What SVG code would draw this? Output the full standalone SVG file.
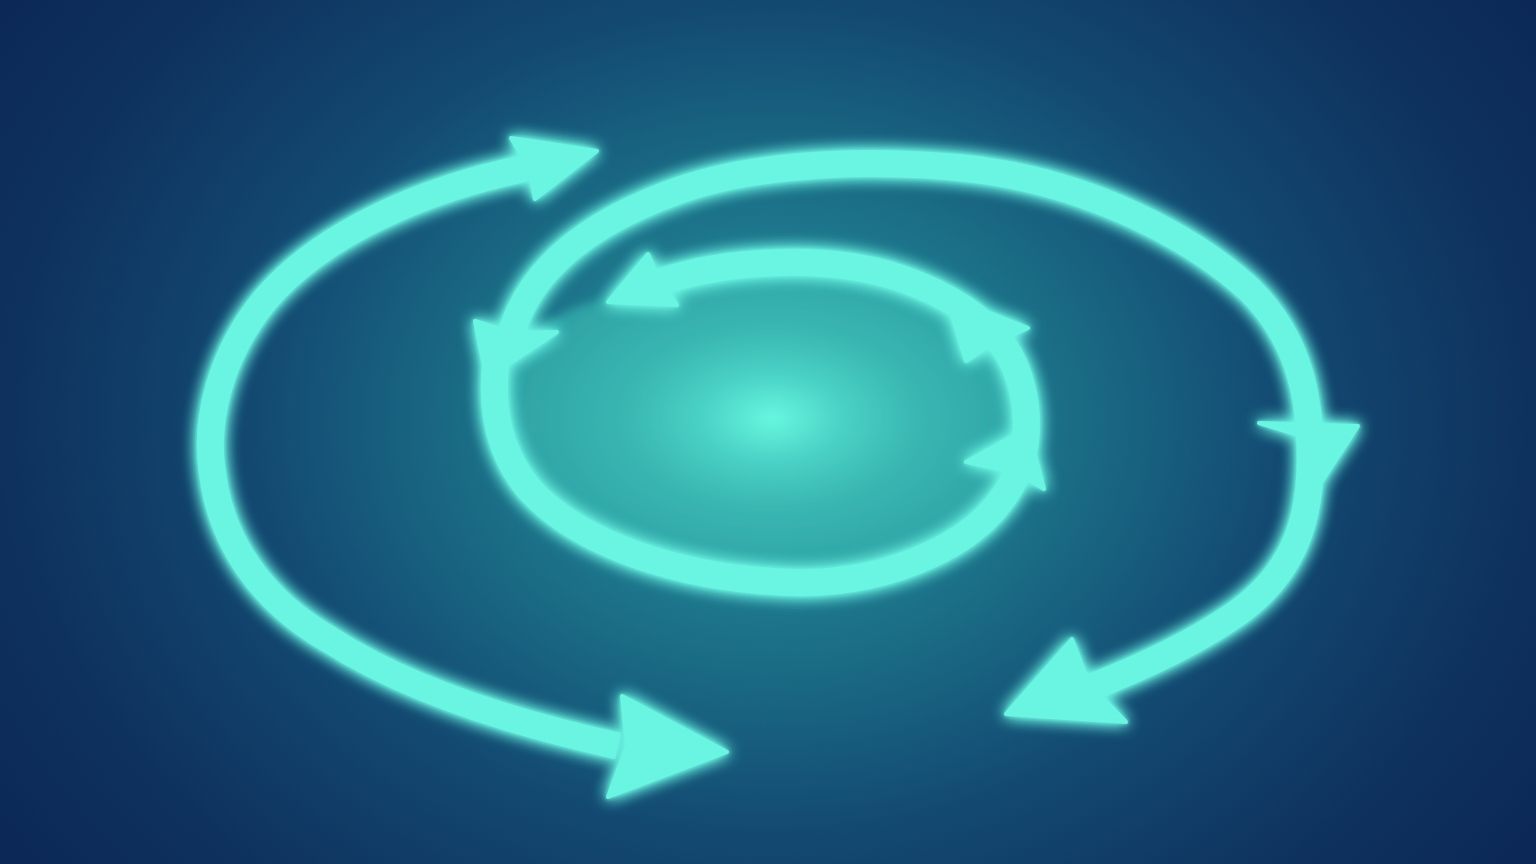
<svg xmlns="http://www.w3.org/2000/svg" width="1536" height="864" viewBox="0 0 1536 864">
  <defs>
    <radialGradient id="bg" gradientUnits="userSpaceOnUse" cx="770" cy="420" r="950" gradientTransform="translate(770 420) scale(1.12 0.9) translate(-770 -420)">
      <stop offset="0" stop-color="#2a98a2"/>
      <stop offset="0.27" stop-color="#1b6f87"/>
      <stop offset="0.48" stop-color="#134a72"/>
      <stop offset="0.72" stop-color="#0e315d"/>
      <stop offset="1" stop-color="#0a2150"/>
    </radialGradient>
    <radialGradient id="core" gradientUnits="userSpaceOnUse" cx="772" cy="418" r="285" gradientTransform="translate(772 418) scale(1 0.62) translate(-772 -418)">
      <stop offset="0" stop-color="#68f8e0"/>
      <stop offset="0.1" stop-color="#5be8d4"/>
      <stop offset="0.26" stop-color="#49d0c5"/>
      <stop offset="0.5" stop-color="#3ab7b2"/>
      <stop offset="1" stop-color="#2c9ea3"/>
    </radialGradient>
    <filter id="soft" x="-10%" y="-10%" width="120%" height="120%">
      <feGaussianBlur stdDeviation="5"/>
    </filter>
    <filter id="glow" x="-20%" y="-20%" width="140%" height="140%">
      <feGaussianBlur in="SourceGraphic" stdDeviation="8" result="b1"/>
      <feGaussianBlur in="SourceGraphic" stdDeviation="2" result="b2"/>
      <feMerge>
        <feMergeNode in="b1"/>
        <feMergeNode in="b1"/>
        <feMergeNode in="b2"/>
        <feMergeNode in="SourceGraphic"/>
      </feMerge>
    </filter>
  </defs>
  <style>
    .shaft { fill: none; stroke: #6af4e2; stroke-width: 27; stroke-linecap: butt; stroke-linejoin: round; }
    .head { fill: #6af4e2; stroke: #6af4e2; stroke-width: 4; stroke-linejoin: round; }
  </style>
  <rect width="1536" height="864" fill="url(#bg)"/>
  <path id="core-glow" filter="url(#soft)" fill="url(#core)" d="M 640,288 C 720,262 820,252 900,278 C 950,295 985,320 1003,345 C 1022,372 1030,410 1025,445 C 1018,490 985,530 930,555 C 880,578 830,585 780,582 C 680,577 580,545 530,490 C 500,455 490,410 500,360 C 530,320 590,300 640,288 Z"/>
  <g id="connectors" filter="url(#glow)">
    <g id="arc-left">
      <path class="shaft" d="M 526,168 C 420,190 320,235 265,300 C 220,355 205,420 212,470 C 220,540 260,600 330,640 C 400,685 500,720 618,746"/>
      <polygon class="head" points="511,138 597,151 535,199 529,168"/>
      <polygon class="head" points="622,696 727,752 608,797 627,746"/>
    </g>
    <g id="arc-outer">
      <path class="shaft" d="M 510,338 C 530,262 600,218 680,190 C 760,162 880,158 980,170 C 1090,185 1190,235 1250,290 C 1300,340 1312,400 1310,470 C 1308,540 1280,585 1230,618 C 1190,645 1140,668 1092,687"/>
      <polygon class="head" points="475,321 512,333 557,332 508,364 484,366"/>
      <polygon class="head" points="1259,423 1358,426 1311,498 1309,438"/>
      <polygon class="head" points="1006,714 1072,639 1089,684 1126,722"/>
    </g>
    <g id="arc-inner">
      <path class="shaft" d="M 660,282 C 720,262 820,252 900,278 C 950,295 985,320 1003,345 C 1022,372 1030,410 1025,445 C 1018,490 985,530 930,555 C 880,578 830,585 780,582 C 680,577 580,545 530,490 C 500,455 490,410 496,360"/>
      <polygon class="head" points="608,302 648,254 660,281 677,305"/>
      <polygon class="head" points="946,296 1028,328 990,345 966,361"/>
      <polygon class="head" points="1028,428 1044,489 1015,472 966,462"/>
    </g>
  </g>
</svg>
